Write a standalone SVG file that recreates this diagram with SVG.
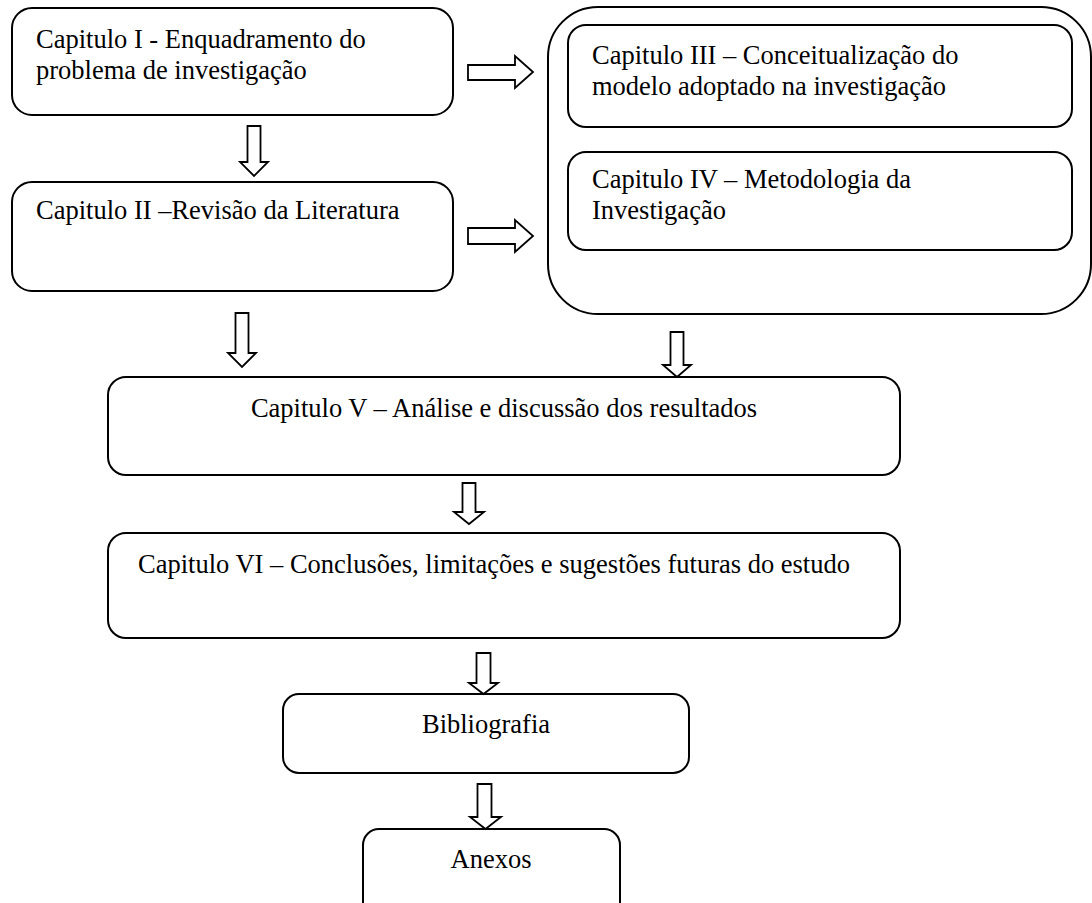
<svg xmlns="http://www.w3.org/2000/svg" width="1092" height="903" viewBox="0 0 1092 903">
<style>
.box{fill:#fff;stroke:#000;stroke-width:2}
.arr{fill:#fff;stroke:#000;stroke-width:1.8;stroke-linejoin:miter}
text{font-family:"Liberation Serif","Times New Roman",serif;font-size:26.5px;fill:#000}
</style>
<rect width="1092" height="903" fill="#fff"/>
<g id="n-container"><rect class="box" x="548" y="7" width="543" height="307" rx="50" ry="50"/></g>
<g id="n-cap1"><rect class="box" x="12" y="8" width="441" height="107" rx="20" ry="20"/>
<text x="36" y="48">Capitulo I - Enquadramento do</text>
<text x="36" y="79">problema de investigação</text></g>
<g id="n-cap2"><rect class="box" x="12" y="182" width="441" height="109" rx="20" ry="20"/>
<text x="36" y="219">Capitulo II –Revisão da Literatura</text></g>
<g id="n-cap3"><rect class="box" x="568" y="25" width="504" height="102" rx="18" ry="18"/>
<text x="592" y="64">Capitulo III – Conceitualização do</text>
<text x="592" y="95">modelo adoptado na investigação</text></g>
<g id="n-cap4"><rect class="box" x="568" y="152" width="504" height="98" rx="18" ry="18"/>
<text x="592" y="188">Capitulo IV – Metodologia da</text>
<text x="592" y="219">Investigação</text></g>
<g id="n-cap5"><rect class="box" x="108" y="377" width="792" height="98" rx="18" ry="18"/>
<text x="504" y="417" text-anchor="middle">Capitulo V – Análise e discussão dos resultados</text></g>
<g id="n-cap6"><rect class="box" x="108" y="533" width="792" height="105" rx="18" ry="18"/>
<text x="138" y="573">Capitulo VI – Conclusões, limitações e sugestões futuras do estudo</text></g>
<g id="n-bib"><rect class="box" x="283" y="694" width="406" height="79" rx="16" ry="16"/>
<text x="486" y="733" text-anchor="middle">Bibliografia</text></g>
<g id="n-anexos"><rect class="box" x="363" y="829" width="257" height="90" rx="16" ry="16"/>
<text x="491" y="868" text-anchor="middle">Anexos</text></g>
<g id="connectors">
<path class="arr" d="M468,65 H515 V56 L533,72 L515,88 V80 H468 Z"/>
<path class="arr" d="M468,228 H515 V220 L533,236 L515,252 V244 H468 Z"/>
<path class="arr" d="M247.5,126 H260.5 V162 H268 L254,176 L240,162 H247.5 Z"/>
<path class="arr" d="M235.5,313 H248.5 V353 H256 L242,367 L228,353 H235.5 Z"/>
<path class="arr" d="M670.5,332 H683.5 V365 H691 L677,377 L663,365 H670.5 Z"/>
<path class="arr" d="M462.5,483 H475.5 V512 H484 L469,524 L454,512 H462.5 Z"/>
<path class="arr" d="M476.5,653 H490.5 V683 H498 L483.5,694 L469,683 H476.5 Z"/>
<path class="arr" d="M477.5,784 H491.5 V817 H501 L485.5,829 L470,817 H477.5 Z"/>
</g>
</svg>
